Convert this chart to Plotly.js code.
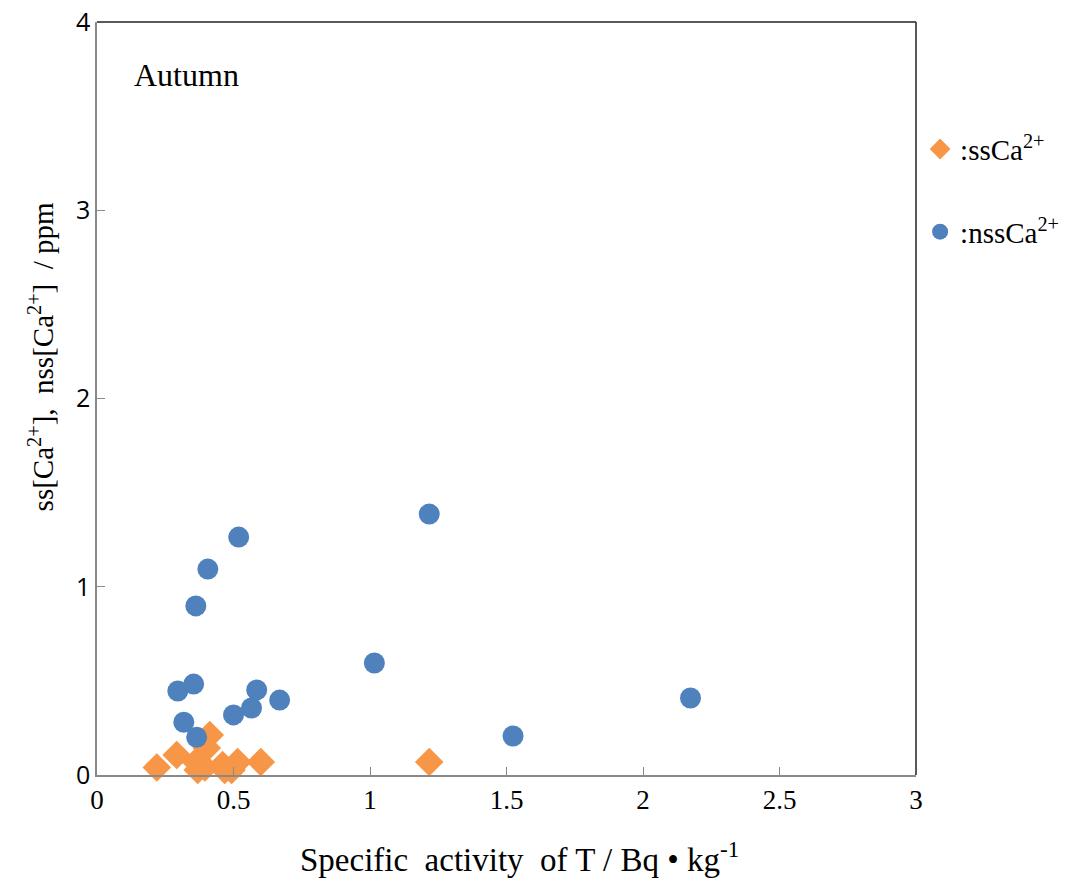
<!DOCTYPE html>
<html>
<head>
<meta charset="utf-8">
<script src="https://cdn.plot.ly/plotly-3.0.1.min.js"></script>
<style>html,body{margin:0;padding:0;background:#fff;}#chart{width:1076px;height:886px;}</style>
</head>
<body>
<div id="chart"></div>
<script>
const ssX = [0.219, 0.292, 0.362, 0.369, 0.413, 0.402, 0.395, 0.46, 0.468, 0.493, 0.515, 0.6, 1.217];
const ssY = [0.04, 0.106, 0.069, 0.027, 0.212, 0.143, 0.04, 0.053, 0.027, 0.027, 0.069, 0.069, 0.069];
const nssX = [0.296, 0.354, 0.318, 0.365, 0.362, 0.406, 0.519, 0.5, 0.566, 0.585, 0.669, 1.016, 1.217, 1.524, 2.174];
const nssY = [0.446, 0.483, 0.28, 0.20, 0.898, 1.094, 1.264, 0.319, 0.356, 0.452, 0.398, 0.595, 1.386, 0.207, 0.409];
const xTicks = [0, 0.5, 1, 1.5, 2, 2.5, 3];
const xTickText = ['0', '0.5', '1', '1.5', '2', '2.5', '3'];
const yTicks = [0, 1, 2, 3, 4];

const serif = 'Liberation Serif, Times New Roman, serif';
const traces = [
  {x: ssX, y: ssY, mode: 'markers', type: 'scatter', name: ':ssCa<sup>2+</sup>', legendgroup: 'a',
   marker: {symbol: 'diamond', size: 22, color: '#F79646'}, cliponaxis: false},
  {x: nssX, y: nssY, mode: 'markers', type: 'scatter', name: ':nssCa<sup>2+</sup>', legendgroup: 'b',
   marker: {symbol: 'circle', size: 21, color: '#4F81BD'}, cliponaxis: false}
];
const layout = {
  width: 1076, height: 886,
  margin: {l: 97, r: 158, t: 22, b: 111},
  paper_bgcolor: '#fff', plot_bgcolor: '#fff',
  showlegend: true,
  legend: {x: 1.005, y: 0.865, xanchor: 'left', yanchor: 'top', tracegroupgap: 42,
           font: {family: serif, size: 29, color: '#000'}, itemwidth: 30},
  xaxis: {range: [0, 3], tickvals: xTicks, ticktext: xTickText, showgrid: false, zeroline: false,
          showline: true, linecolor: '#898989', linewidth: 1.5, ticks: 'inside', ticklen: 8, tickcolor: '#898989',
          tickfont: {family: serif, size: 27, color: '#000'}},
  yaxis: {range: [0, 4], tickvals: yTicks, showgrid: false, zeroline: false,
          showline: true, linecolor: '#898989', linewidth: 1.5, ticks: 'inside', ticklen: 8, tickcolor: '#898989',
          tickfont: {family: 'Open Sans, sans-serif', size: 25, color: '#000'}},
  shapes: [
    {type: 'line', xref: 'paper', yref: 'paper', x0: 0, x1: 1, y0: 1, y1: 1, line: {color: '#222', width: 1.5}},
    {type: 'line', xref: 'paper', yref: 'paper', x0: 1, x1: 1, y0: 0, y1: 1, line: {color: '#222', width: 1.5}}
  ],
  annotations: [
    {text: 'Autumn', xref: 'paper', yref: 'paper', x: 0.043, y: 0.93, xanchor: 'left', yanchor: 'middle', showarrow: false,
     font: {family: serif, size: 32, color: '#000'}},
    {text: 'Specific  activity  of T / Bq • kg<sup>-1</sup>', xref: 'paper', yref: 'paper', x: 0.516, y: -0.109,
     xanchor: 'center', yanchor: 'middle', showarrow: false, font: {family: serif, size: 33, color: '#000'}},
    {text: 'ss[Ca<sup>2+</sup>],  nss[Ca<sup>2+</sup>]  / ppm', xref: 'paper', yref: 'paper', x: -0.068, y: 0.555,
     xanchor: 'center', yanchor: 'middle', textangle: -90, showarrow: false, font: {family: serif, size: 29, color: '#000'}}
  ]
};
Plotly.newPlot('chart', traces, layout, {displayModeBar: false});
</script>
</body>
</html>
